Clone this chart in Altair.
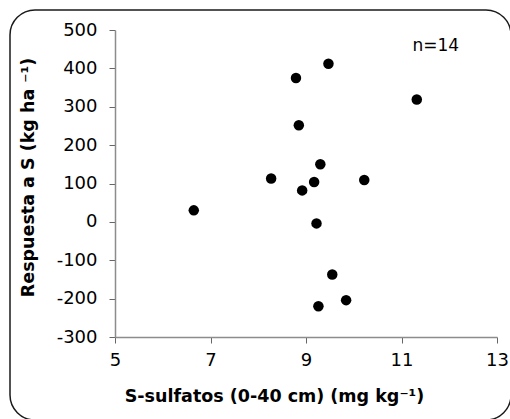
import altair as alt
import pandas as pd

# S-sulfatos (0-40 cm) vs Respuesta a S
x_vals = [6.65, 8.27, 8.79, 8.85, 8.92, 9.17, 9.22, 9.30, 9.47, 9.55, 9.26, 9.84, 10.22, 11.32]
y_vals = [30, 113, 375, 252, 82, 104, -4, 150, 412, -137, -220, -204, 109, 319]

x_ticks = [5, 7, 9, 11, 13]
y_ticks = [-300, -200, -100, 0, 100, 200, 300, 400, 500]

note_text = ["n=14"]
note_x = [11.23]
note_y = [445]

df = pd.DataFrame({"x": x_vals, "y": y_vals})
note_df = pd.DataFrame({"x": note_x, "y": note_y, "t": note_text})

W, H = 382, 307
PL, PT = 115, 30

xscale = alt.Scale(domain=[5, 13], nice=False, zero=False)
yscale = alt.Scale(domain=[-300, 500], nice=False, zero=False)

x_axis = alt.Axis(values=x_ticks, title="S-sulfatos (0-40 cm) (mg kg⁻¹)",
                  labelFlush=False, labelOverlap=False,
                  labelExpr="datum.value",
                  titleX=159, titleY=64, titleBaseline="alphabetic", titleAlign="center",
                  labelPadding=8)
y_axis = alt.Axis(values=y_ticks, title="Respuesta a S (kg ha ⁻¹)",
                  labelOverlap=False, labelFlush=False,
                  labelExpr="datum.value",
                  titleX=-82, titleY=147, titleBaseline="alphabetic", titleAlign="center",
                  titleAngle=-90, labelPadding=12)

frame = alt.Chart(pd.DataFrame({"k": [0]})).mark_rect(
    fill="white", fillOpacity=0, stroke="#1a1a1a", strokeWidth=1.5, cornerRadius=25
).encode(
    x=alt.value(10 - PL), x2=alt.value(511 - PL),
    y=alt.value(10 - PT), y2=alt.value(420 - PT),
)

points = alt.Chart(df).mark_circle(size=110, color="black", opacity=1).encode(
    x=alt.X("x:Q", scale=xscale, axis=x_axis),
    y=alt.Y("y:Q", scale=yscale, axis=y_axis),
)

note = alt.Chart(note_df).mark_text(
    font="DejaVu Sans", fontSize=17, color="black", align="left", baseline="alphabetic"
).encode(
    x=alt.X("x:Q", scale=xscale, axis=x_axis),
    y=alt.Y("y:Q", scale=yscale, axis=y_axis),
    text="t:N",
)

chart = alt.layer(frame, points, note).properties(
    width=W, height=H,
    autosize=alt.AutoSizeParams(type="none"),
    padding={"left": PL, "top": PT, "right": 510 - PL - W, "bottom": 419 - PT - H},
    background="white",
).configure_view(stroke=None).configure_axis(
    grid=False,
    domainColor="#8c8c8c", domainWidth=1.5,
    tickColor="#666666", tickSize=6, tickWidth=1,
    labelFont="DejaVu Sans", labelFontSize=18, labelColor="black",
    titleFont="DejaVu Sans", titleFontSize=17.5, titleFontWeight="bold", titleColor="black",
)

chart.save("out.html", embed_options={"renderer": "svg", "actions": False})
